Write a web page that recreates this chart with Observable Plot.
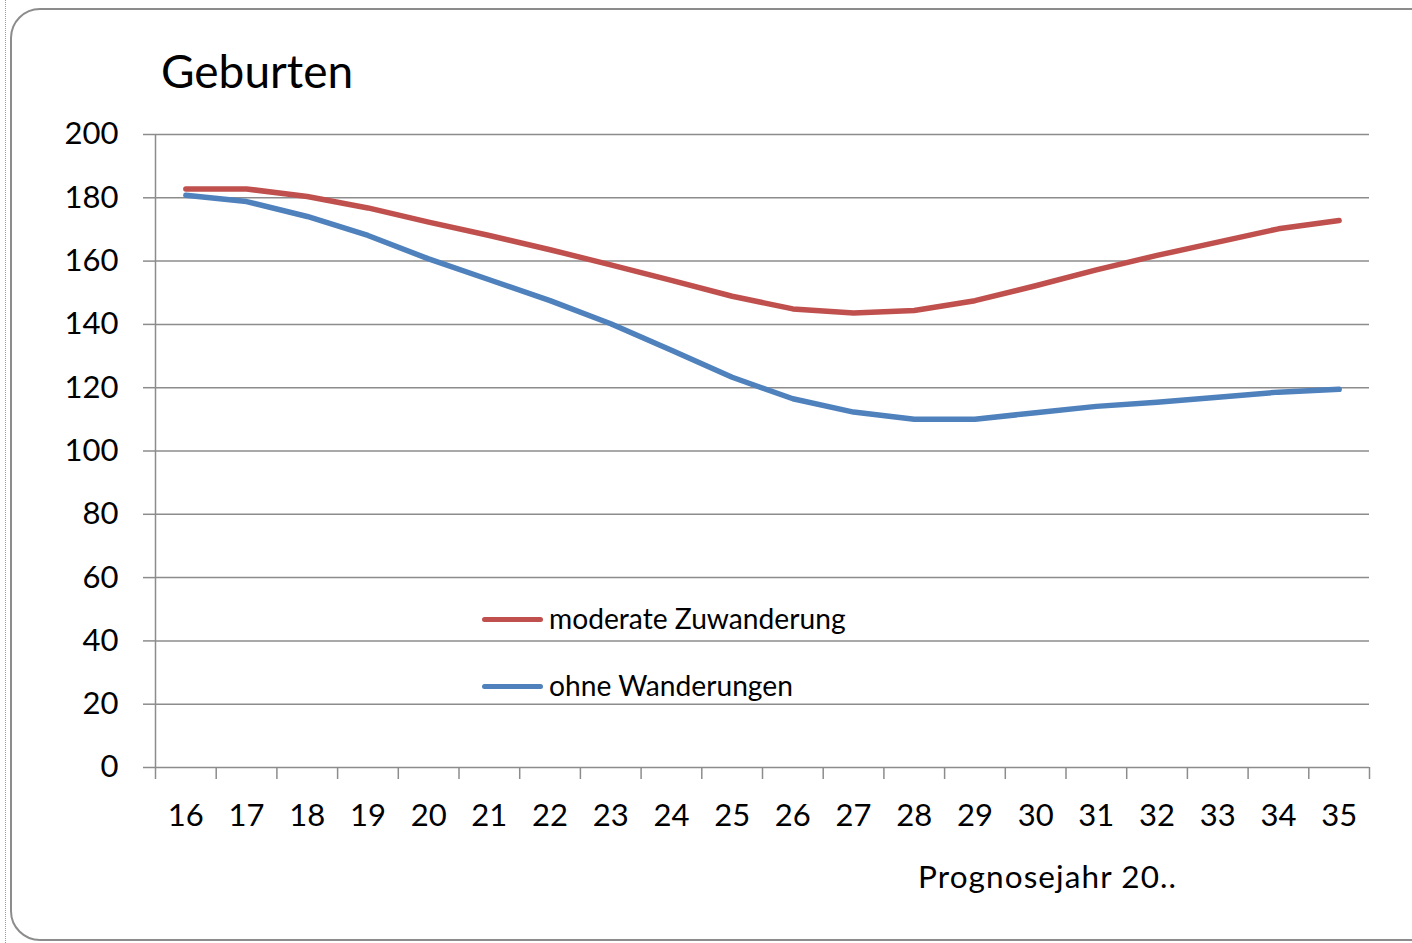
<!DOCTYPE html>
<html>
<head>
<meta charset="utf-8">
<script src="https://cdn.jsdelivr.net/npm/d3@7"></script>
<script src="https://cdn.jsdelivr.net/npm/@observablehq/plot@0.6"></script>
<style>
  html, body { margin: 0; padding: 0; background: #fff; overflow: hidden; }
  #wrap { position: relative; width: 1412px; height: 943px; font-family: Lato, "Open Sans", sans-serif; color: #000; }
  #frame { position: absolute; left: 10px; top: 8px; width: 1430px; height: 933px; border: 2px solid #8c8c8c; border-radius: 30px; box-sizing: border-box; }
  #dots { position: absolute; left: 5px; top: 0; height: 943px; border-left: 1px dotted #9a9a9a; }
  #chart { position: absolute; left: 0; top: 0; }
  .t { position: absolute; line-height: 1; white-space: nowrap; }
  #title { left: 161px; top: 48px; font-size: 46px; }
  #xtitle { left: 918px; top: 861px; font-size: 31.5px; letter-spacing: 1.1px; }
  .leg { position: absolute; left: 482px; font-size: 28.2px; line-height: 1; white-space: nowrap; }
  .leg span.sw { display: inline-block; width: 61px; height: 5px; border-radius: 3px; vertical-align: middle; margin-right: 6px; position: relative; top: -2px; }
</style>
</head>
<body>
<div id="wrap">
  <div id="dots"></div>
  <div id="frame"></div>
  <div id="chart"></div>
  <div class="t" id="title">Geburten</div>
  <div class="t" id="xtitle">Prognosejahr 20..</div>
  <div class="leg" id="leg1" style="top:604px"><span class="sw" style="background:#C0504D"></span>moderate Zuwanderung</div>
  <div class="leg" id="leg2" style="top:671px"><span class="sw" style="background:#4F81BD"></span>ohne Wanderungen</div>
</div>
<script>
const years = [16,17,18,19,20,21,22,23,24,25,26,27,28,29,30,31,32,33,34,35];
const moderate = [182.8,182.8,180.4,176.8,172.3,168.1,163.6,158.8,153.9,148.9,144.9,143.6,144.4,147.5,152.2,157.2,161.8,166,170.2,172.8];
const ohne = [180.8,178.8,174.1,168.1,160.7,154.1,147.5,140.2,131.8,123.3,116.5,112.3,110,110,112.1,114.1,115.4,117,118.6,119.5];
const seriesNames = ["moderate Zuwanderung","ohne Wanderungen"];
const seriesColors = ["#C0504D","#4F81BD"];
const yTicks = [0,20,40,60,80,100,120,140,160,180,200];

const data = [
  ...years.map((y,i)=>({year:y, value:moderate[i], series:seriesNames[0]})),
  ...years.map((y,i)=>({year:y, value:ohne[i], series:seriesNames[1]}))
];
const bounds = [...years.map(y=>y-0.5), years[years.length-1]+0.5];

const chart = Plot.plot({
  width: 1412,
  height: 943,
  marginLeft: 155,
  marginRight: 43,
  marginTop: 134,
  marginBottom: 176,
  style: {background: "transparent", fontFamily: "Lato, 'Open Sans', sans-serif", fontSize: "31px", color: "#000"},
  x: {domain: [bounds[0], bounds[bounds.length-1]]},
  y: {domain: [0, 200]},
  color: {domain: seriesNames, range: seriesColors},
  marks: [
    Plot.ruleY(yTicks, {stroke: "#8c8c8c", strokeWidth: 1.5, strokeOpacity: 1}),
    Plot.ruleX([bounds[0]], {stroke: "#8c8c8c", strokeWidth: 1.5}),
    Plot.axisY({ticks: yTicks, tickSize: 12, tickPadding: 25, tickFormat: d => String(d), stroke: "#8c8c8c", strokeWidth: 1.5, strokeOpacity: 1, fill: "#000", fontSize: 31, label: null}),
    Plot.axisX({ticks: bounds, tickSize: 12, tickFormat: () => "", stroke: "#8c8c8c", strokeWidth: 1.5, strokeOpacity: 1, label: null}),
    Plot.axisX({ticks: years, tickSize: 0, tickPadding: 36, tickFormat: d => String(d), fill: "#000", fontSize: 31, label: null}),
    Plot.line(data, {x: "year", y: "value", stroke: "series", z: "series", strokeWidth: 5.5, strokeLinecap: "round", strokeLinejoin: "round"})
  ]
});
document.getElementById("chart").appendChild(chart);
</script>
</body>
</html>
